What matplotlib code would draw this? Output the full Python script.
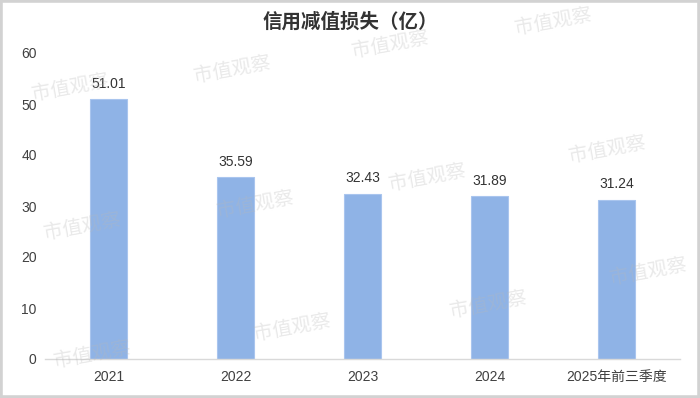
import matplotlib
matplotlib.use("Agg")
import matplotlib.pyplot as plt
from matplotlib.patches import Rectangle

plt.rcParams['font.family'] = ['Liberation Sans', 'Noto Sans CJK SC', 'DejaVu Sans']

categories = ["2021", "2022", "2023", "2024", "2025年前三季度"]
values = [51.01, 35.59, 32.43, 31.89, 31.24]
value_labels = ["51.01", "35.59", "32.43", "31.89", "31.24"]
yticks = [0, 10, 20, 30, 40, 50, 60]
title = "信用减值损失（亿）"
watermark = "市值观察"

W, H = 700, 398
fig = plt.figure(figsize=(W / 100, H / 100), dpi=100)
fig.patch.set_facecolor("white")

ax = fig.add_axes([45 / W, 39 / H, 635 / W, 306 / H])
ax.set_facecolor("none")

x = list(range(len(categories)))
ax.bar(x, values, width=0.285, color="#8FB3E6", edgecolor="#A9C5EE",
       linewidth=0.8, zorder=2)
for xi, v, lab in zip(x, values, value_labels):
    ax.annotate(lab, (xi, v), xytext=(0, 6), textcoords="offset points",
                ha="center", va="bottom", fontsize=10, color="#333333")

ax.set_xlim(-0.5, len(categories) - 0.5)
ax.set_ylim(0, 60)
ax.set_yticks(yticks)
ax.set_yticklabels([str(t) for t in yticks], fontsize=10, color="#404040")
ax.set_xticks(x)
ax.set_xticklabels(categories, fontsize=10, color="#404040")
ax.tick_params(axis="both", length=0, pad=8)
ax.tick_params(axis="y", pad=6)
for s in ["top", "right", "left"]:
    ax.spines[s].set_visible(False)
ax.spines["bottom"].set_color("#D9D9D9")
ax.spines["bottom"].set_linewidth(1.0)

fig.text(0.5, 1 - 22 / H, title, ha="center", va="center", fontsize=14,
         fontweight="bold", color="#333333",
         family=["Noto Sans CJK SC", "DejaVu Sans"])

# faint watermark stamps across the canvas
wm_pos = [(70, 88), (232, 70), (390, 45), (553, 22), (82, 227), (255, 205),
          (427, 178), (607, 150), (488, 305), (292, 328), (92, 355), (648, 272)]
for px, py in wm_pos:
    fig.text(px / W, 1 - py / H, watermark, ha="center", va="center",
             fontsize=14, color="#B8B8B8", alpha=0.3, rotation=10,
             zorder=5, family=["Noto Sans CJK SC", "DejaVu Sans"])

# outer frame
fig.patches.append(Rectangle((0, 0), 1, 1, transform=fig.transFigure,
                             fill=False, edgecolor="#D2D2D2", linewidth=4,
                             zorder=10))

fig.savefig("out.png", dpi=100)
